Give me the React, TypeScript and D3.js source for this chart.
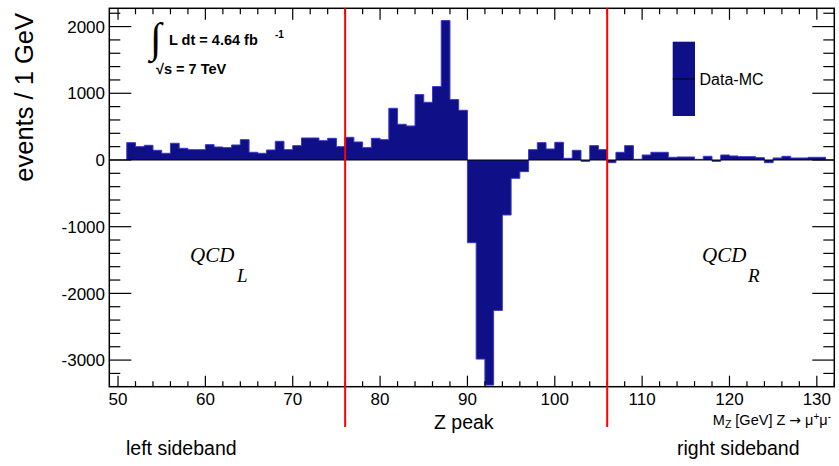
import React from "react";
import * as d3 from "d3";

const binLowEdges: number[] = d3.range(51, 131);
const binValues: number[] = [
  260, 200, 220, 145, 100, 250, 175, 155, 155, 230,
  195, 185, 225, 305, 115, 100, 150, 280, 155, 215,
  330, 330, 290, 325, 200, 340, 270, 185, 325, 305,
  775, 535, 510, 980, 865, 1100, 2090, 905, 745, -1240,
  -2985, -3375, -2255, -825, -275, -175, 155, 260, 165, 265,
  25, 145, -20, 215, 155, -40, 115, 215, 10, 75,
  115, 115, 40, 45, 45, 10, 55, -20, 75, 60,
  50, 50, 35, -40, 30, 55, 30, 30, 40, 40,
];
const xTickLabels: number[] = [50, 60, 70, 80, 90, 100, 110, 120, 130];
const yTickLabels: number[] = [-3000, -2000, -1000, 0, 1000, 2000];
const sidebandEdges: number[] = [76, 106];

const W = 839;
const H = 466;
const L = 109.3, R = 834.3, T = 8.3, B = 386.7;
const FILL = "#0f0f88";
const EDGE = "#3a3ac8";
const SANS = "'Liberation Sans', Arial, sans-serif";
const SERIF = "'Liberation Serif', 'Times New Roman', serif";

export default function App() {
  const x = d3.scaleLinear().domain([49, 132]).range([L, R]);
  const y = d3.scaleLinear().domain([-3399, 2274]).range([B, T]);

  const xMinor = d3.range(50, 133, 2);
  const yMinor = d3.range(-3400, 2275, 200).filter((v) => v >= -3399);

  const pts: [number, number][] = [];
  binLowEdges.forEach((lo, i) => {
    pts.push([lo, binValues[i]]);
    pts.push([lo + 1, binValues[i]]);
  });
  const area = d3
    .area<[number, number]>()
    .x((d) => x(d[0]))
    .y0(y(0))
    .y1((d) => y(d[1]));
  const line = d3
    .line<[number, number]>()
    .x((d) => x(d[0]))
    .y((d) => y(d[1]));
  const outline: [number, number][] = [[51, 0], ...pts, [131, 0]];

  return (
    <svg
      width={W}
      height={H}
      style={{ position: "absolute", left: 0, top: 0, background: "#fff" }}
      fontFamily={SANS}
    >
      <rect x={0} y={0} width={W} height={H} fill="#fff" />
      <defs>
        <clipPath id="frame">
          <rect x={L} y={T} width={R - L} height={B - T} />
        </clipPath>
      </defs>
      <g clipPath="url(#frame)">
        <path d={area(pts) || ""} fill={FILL} />
        <path d={line(outline) || ""} fill="none" stroke={EDGE} strokeWidth={1} />
        <line x1={L} x2={R} y1={y(0)} y2={y(0)} stroke="#000" strokeWidth={1.2} />
      </g>

      <rect x={L} y={T} width={R - L} height={B - T} fill="none" stroke="#000" strokeWidth={1.5} />

      {xMinor.map((v) => {
        const major = v % 10 === 0;
        const len = major ? 11 : 5.5;
        return (
          <g key={"xt" + v}>
            <line x1={x(v)} x2={x(v)} y1={B} y2={B - len} stroke="#000" strokeWidth={1.2} />
            <line x1={x(v)} x2={x(v)} y1={T} y2={T + len + 0.5} stroke="#000" strokeWidth={1.2} />
          </g>
        );
      })}
      {yMinor.map((v) => {
        const major = v % 1000 === 0;
        const len = major ? 22 : 11;
        return (
          <g key={"yt" + v}>
            <line x1={L} x2={L + len} y1={y(v)} y2={y(v)} stroke="#000" strokeWidth={1.2} />
            <line x1={R} x2={R - len} y1={y(v)} y2={y(v)} stroke="#000" strokeWidth={1.2} />
          </g>
        );
      })}

      {xTickLabels.map((v) => (
        <text key={"xl" + v} x={x(v)} y={405} fontSize={17} textAnchor="middle" fill="#000">
          {v}
        </text>
      ))}
      {yTickLabels.map((v) => (
        <text key={"yl" + v} x={105} y={y(v)} dy="0.36em" fontSize={17} textAnchor="end" fill="#000">
          {v}
        </text>
      ))}

      <text transform="translate(33,13) rotate(-90)" fontSize={25.5} textAnchor="end" fill="#000">
        events / 1 GeV
      </text>

      <text x={831} y={425} fontSize={14.5} textAnchor="end" fill="#000">
        M<tspan fontSize={10.5} dy={3}>Z</tspan>
        <tspan dy={-3}> [GeV] Z </tspan>
        <tspan fontFamily="'DejaVu Sans', sans-serif" fontSize={14}>→</tspan>
        <tspan> μ</tspan>
        <tspan fontSize={10} dy={-5}>+</tspan>
        <tspan dy={5}>μ</tspan>
        <tspan fontSize={10} dy={-5}>-</tspan>
      </text>

      {sidebandEdges.map((v) => (
        <line key={"sb" + v} x1={x(v)} x2={x(v)} y1={T} y2={427} stroke="#ff0000" strokeWidth={2} />
      ))}

      <text x={434} y={429} fontSize={19.5} fill="#000">Z peak</text>
      <text x={126} y={455} fontSize={19.5} fill="#000">left sideband</text>
      <text x={677} y={455} fontSize={19.5} fill="#000">right sideband</text>

      <text x={190} y={262} fontFamily={SERIF} fontStyle="italic" fontSize={21} fill="#000">QCD</text>
      <text x={237} y={282} fontFamily={SERIF} fontStyle="italic" fontSize={19} fill="#000">L</text>
      <text x={702} y={262} fontFamily={SERIF} fontStyle="italic" fontSize={21} fill="#000">QCD</text>
      <text x={748} y={282} fontFamily={SERIF} fontStyle="italic" fontSize={19} fill="#000">R</text>

      <text x={150} y={52} fontSize={42} fill="#000" fontFamily={SERIF}>∫</text>
      <text x={169} y={45} fontSize={14.5} fontWeight="bold" fill="#000">L dt = 4.64 fb</text>
      <text x={275} y={38} fontSize={10} fontWeight="bold" fill="#000">-1</text>
      <text x={156} y={74} fontSize={14.5} fontWeight="bold" fill="#000">√s = 7 TeV</text>

      <rect x={672.7} y={41.7} width={22.3} height={74.3} fill={FILL} />
      <line x1={672.7} x2={695} y1={79} y2={79} stroke="#000" strokeWidth={0.8} />
      <text x={699.5} y={79} dy="0.36em" fontSize={16} fill="#000">Data-MC</text>
    </svg>
  );
}
